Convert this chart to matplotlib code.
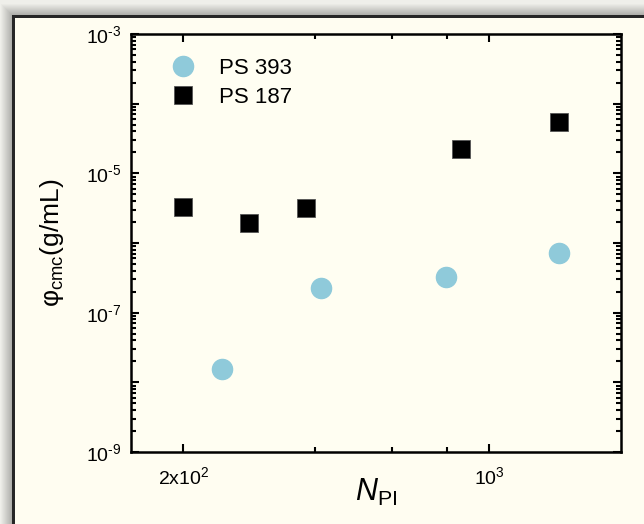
import numpy as np
import matplotlib
matplotlib.use("Agg")
import matplotlib.pyplot as plt
from matplotlib.ticker import FixedLocator, FixedFormatter, LogLocator, NullFormatter

plt.rcParams['font.family'] = ['Liberation Sans', 'DejaVu Sans']
plt.rcParams['mathtext.fontset'] = 'custom'
plt.rcParams['mathtext.rm'] = 'Liberation Sans'
plt.rcParams['mathtext.it'] = 'Liberation Sans:italic'

# Data: cmc of PS-b-PI copolymers vs PI block length
n_pi_393 = [245, 413, 796, 1440]
cmc_393 = [1.54e-8, 2.24e-7, 3.28e-7, 7.26e-7]

n_pi_187 = [200, 283, 381, 861, 1443]
cmc_187 = [3.32e-6, 1.92e-6, 3.18e-6, 2.24e-5, 5.51e-5]

x_major = [200, 1000]
x_major_labels = [r'$2{\rm x}10^{2}$', r'$10^{3}$']
x_minor = [400, 600, 800]
y_major = [1e-9, 1e-8, 1e-7, 1e-6, 1e-5, 1e-4, 1e-3]
y_major_labels = [r'$10^{\text{-9}}$', '', r'$10^{\text{-7}}$', '',
                  r'$10^{\text{-5}}$', '', r'$10^{\text{-3}}$']

W, H = 644, 524
cream = '#FFFEF2'
fig = plt.figure(figsize=(W / 100, H / 100), dpi=100)

# Framed panel with a soft drop shadow on its top and left sides
bg = fig.add_axes([0, 0, 1, 1], zorder=-10)
bg.set_axis_off()
fx, fy = 13, 16
yy, xx = np.mgrid[0:H, 0:W]
dx = np.clip(fx - xx, 0, None).astype(float)
dy = np.clip(fy - yy, 0, None).astype(float)
d = np.maximum(dx, dy)
outside = (xx < fx) | (yy < fy)
shade = np.where(outside, 0.70 + 0.28 * np.clip((d - 1) / 12.0, 0, 1), 1.0)
img = np.ones((H, W, 3))
base = np.array([1.0, 0.996, 0.949])
grey = np.array([0.96, 0.96, 0.94])
for c in range(3):
    img[..., c] = np.where(outside, grey[c] * shade, base[c])
border = ((xx >= fx - 1) & (xx <= fx + 1) & (yy >= fy - 1)) | ((yy >= fy - 1) & (yy <= fy + 1) & (xx >= fx - 1))
for c in range(3):
    img[..., c] = np.where(border, 0.15, img[..., c])
bg.imshow(img, extent=[0, 1, 0, 1], aspect='auto', interpolation='bilinear')
bg.set_xlim(0, 1)
bg.set_ylim(0, 1)

ax = fig.add_axes([131 / W, 1 - 452 / H, 490 / W, 418 / H])
ax.set_facecolor(cream)
ax.set_xscale('log')
ax.set_yscale('log')
ax.set_xlim(152, 2000)
ax.set_ylim(1e-9, 1e-3)

ax.plot(n_pi_393, cmc_393, linestyle='none', marker='o', markersize=14.5,
        markerfacecolor='#8FCADA', markeredgecolor='#8FCADA', label='PS 393')
ax.plot(n_pi_187, cmc_187, linestyle='none', marker='s', markersize=12.5,
        markerfacecolor='black', markeredgecolor='#555555', markeredgewidth=0.6,
        label='PS 187')

ax.xaxis.set_major_locator(FixedLocator(x_major))
ax.xaxis.set_major_formatter(FixedFormatter(x_major_labels))
ax.xaxis.set_minor_locator(FixedLocator(x_minor))
ax.xaxis.set_minor_formatter(NullFormatter())
ax.yaxis.set_major_locator(FixedLocator(y_major))
ax.yaxis.set_major_formatter(FixedFormatter(y_major_labels))
ax.yaxis.set_minor_locator(LogLocator(base=10, subs=np.arange(2, 10), numticks=20))
ax.yaxis.set_minor_formatter(NullFormatter())

ax.tick_params(which='both', direction='in', top=True, right=True, width=1.5,
               labelsize=14, colors='black', pad=7)
ax.tick_params(which='major', length=6)
ax.tick_params(which='minor', length=3.5)
ax.tick_params(axis='x', which='major', pad=10)
for s in ax.spines.values():
    s.set_linewidth(1.8)

ax.set_xlabel(r'$N_{\rm PI}$', fontsize=22, labelpad=-8)
ax.set_ylabel(r'φ$_{\rm cmc}$(g/mL)', fontsize=19, labelpad=14)

ax.legend(loc='upper left', frameon=False, fontsize=16, handletextpad=0.6,
          borderaxespad=0.3, labelspacing=0.35, bbox_to_anchor=(0.03, 0.98))

fig.savefig('out.png', dpi=100, facecolor=cream)
